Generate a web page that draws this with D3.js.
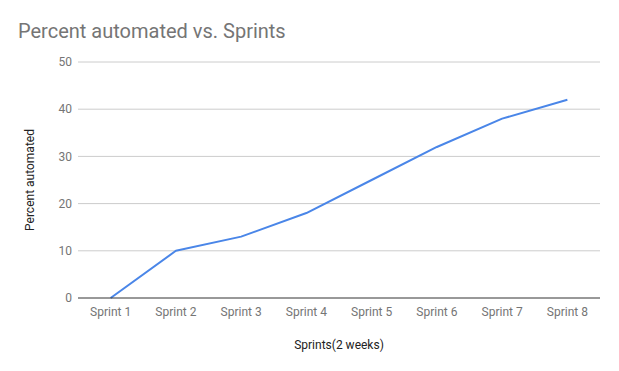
<!DOCTYPE html>
<html>
<head>
<meta charset="utf-8">
<script src="https://cdn.jsdelivr.net/npm/d3@7"></script>
<style>
  body { margin: 0; background: #fff; }
  text { font-family: Roboto, "Noto Sans", sans-serif; }
</style>
</head>
<body>
<svg id="chart" width="619" height="371"></svg>
<script>
const sprints = ['Sprint 1', 'Sprint 2', 'Sprint 3', 'Sprint 4', 'Sprint 5', 'Sprint 6', 'Sprint 7', 'Sprint 8'];
const percentAutomated = [0, 10, 13, 18, 25, 32, 38, 42];
const yTicks = [0, 10, 20, 30, 40, 50];

const width = 619, height = 371;
const margin = { top: 62, right: 19, bottom: 73, left: 78 };

const svg = d3.select('#chart');

const x = d3.scalePoint()
  .domain(sprints)
  .range([margin.left, width - margin.right])
  .padding(0.5);

const y = d3.scaleLinear()
  .domain([0, 50])
  .range([height - margin.bottom, margin.top]);

// gridlines
svg.append('g')
  .selectAll('line')
  .data(yTicks.filter(d => d !== 0))
  .join('line')
  .attr('x1', margin.left)
  .attr('x2', width - margin.right)
  .attr('y1', d => y(d))
  .attr('y2', d => y(d))
  .attr('stroke', '#cccccc')
  .attr('stroke-width', 1);

// y tick labels
svg.append('g')
  .selectAll('text')
  .data(yTicks)
  .join('text')
  .attr('x', margin.left - 6)
  .attr('y', d => y(d))
  .attr('dy', '0.35em')
  .attr('text-anchor', 'end')
  .attr('font-size', 12)
  .attr('fill', '#757575')
  .text(d => d);

// x tick labels
svg.append('g')
  .selectAll('text')
  .data(sprints)
  .join('text')
  .attr('x', d => x(d))
  .attr('y', y(0) + 18)
  .attr('text-anchor', 'middle')
  .attr('font-size', 12)
  .attr('fill', '#757575')
  .text(d => d);

// line
const line = d3.line()
  .x((d, i) => x(sprints[i]))
  .y(d => y(d));

svg.append('path')
  .datum(percentAutomated)
  .attr('fill', 'none')
  .attr('stroke', '#4a86e8')
  .attr('stroke-width', 2)
  .attr('stroke-linejoin', 'round')
  .attr('d', line);

// baseline
svg.append('line')
  .attr('x1', margin.left)
  .attr('x2', width - margin.right)
  .attr('y1', y(0))
  .attr('y2', y(0))
  .attr('stroke', '#333333')
  .attr('stroke-width', 1);

// title
svg.append('text')
  .attr('x', 18)
  .attr('y', 38)
  .attr('font-size', 20)
  .attr('fill', '#757575')
  .text('Percent automated vs. Sprints');

// axis titles
svg.append('text')
  .attr('x', (margin.left + width - margin.right) / 2)
  .attr('y', 349)
  .attr('text-anchor', 'middle')
  .attr('font-size', 12)
  .attr('fill', '#222222')
  .text('Sprints(2 weeks)');

svg.append('text')
  .attr('transform', `translate(34, ${(y(0) + y(50)) / 2}) rotate(-90)`)
  .attr('text-anchor', 'middle')
  .attr('font-size', 12)
  .attr('fill', '#222222')
  .text('Percent automated');
</script>
</body>
</html>
